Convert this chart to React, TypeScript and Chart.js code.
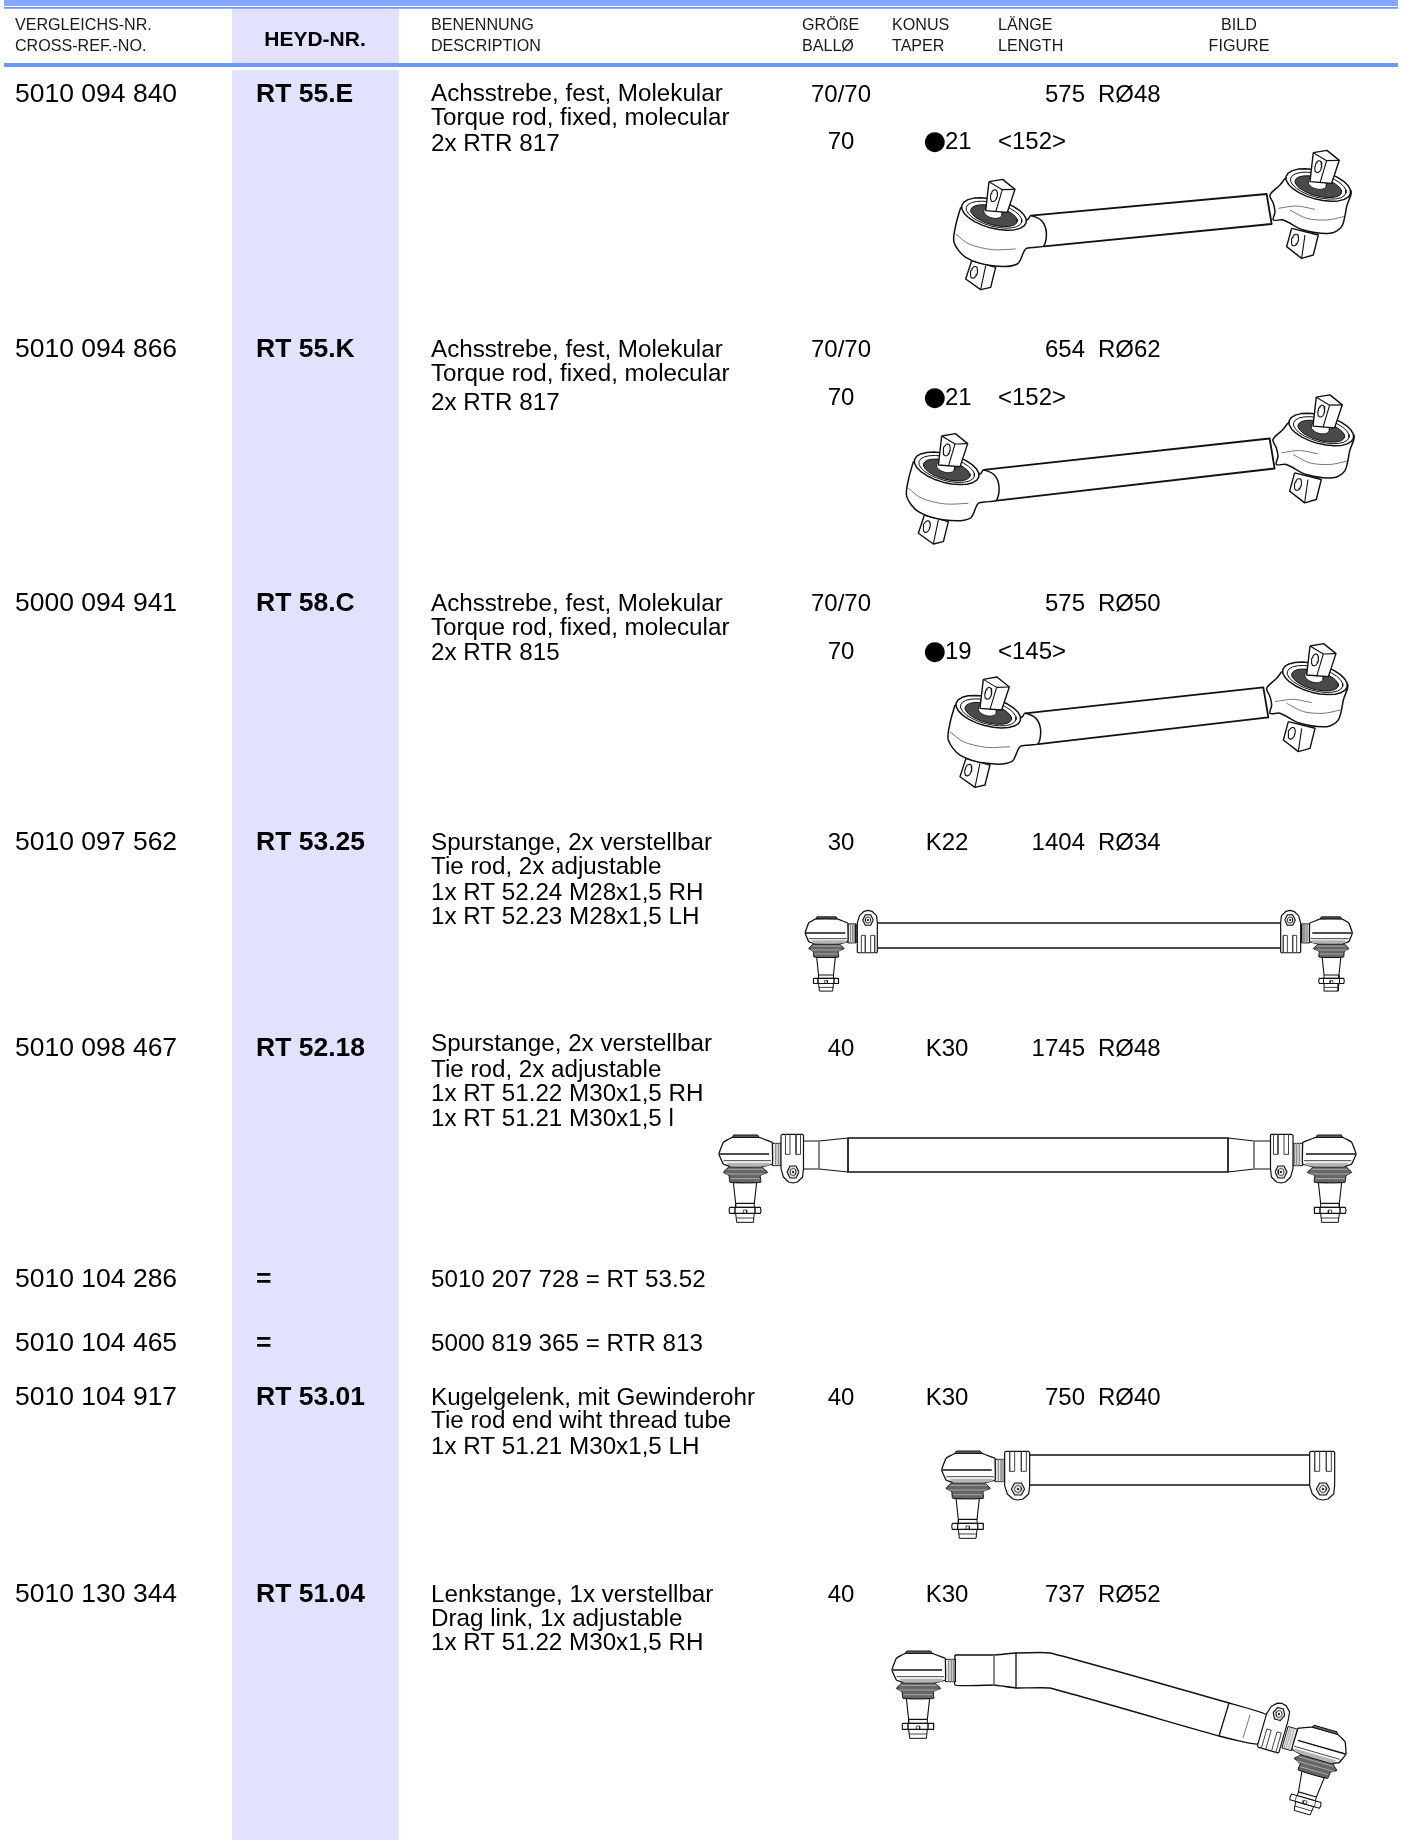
import React, { useEffect, useRef } from "react";
import { Chart, registerables } from "chart.js";

Chart.register(...registerables);

// ---------- table content ----------
const headerCross = ["VERGLEICHS-NR.", "CROSS-REF.-NO."];
const headerHeyd = "HEYD-NR.";
const headerDesc = ["BENENNUNG", "DESCRIPTION"];
const headerSize = ["GRÖßE", "BALLØ"];
const headerTaper = ["KONUS", "TAPER"];
const headerLength = ["LÄNGE", "LENGTH"];
const headerFigure = ["BILD", "FIGURE"];

const crossRefs = ["5010 094 840", "5010 094 866", "5000 094 941", "5010 097 562", "5010 098 467", "5010 104 286", "5010 104 465", "5010 104 917", "5010 130 344"];
const heydNumbers = ["RT 55.E", "RT 55.K", "RT 58.C", "RT 53.25", "RT 52.18", "=", "=", "RT 53.01", "RT 51.04"];
const descriptions = [
  ["Achsstrebe, fest, Molekular", "Torque rod, fixed, molecular", "2x RTR 817"],
  ["Achsstrebe, fest, Molekular", "Torque rod, fixed, molecular", "2x RTR 817"],
  ["Achsstrebe, fest, Molekular", "Torque rod, fixed, molecular", "2x RTR 815"],
  ["Spurstange, 2x verstellbar", "Tie rod, 2x adjustable", "1x RT 52.24 M28x1,5 RH", "1x RT 52.23 M28x1,5 LH"],
  ["Spurstange, 2x verstellbar", "Tie rod, 2x adjustable", "1x RT 51.22 M30x1,5 RH", "1x RT 51.21 M30x1,5 l"],
  ["5010 207 728 = RT 53.52"],
  ["5000 819 365 = RTR 813"],
  ["Kugelgelenk, mit Gewinderohr", "Tie rod end wiht thread tube", "1x RT 51.21 M30x1,5 LH"],
  ["Lenkstange, 1x verstellbar", "Drag link, 1x adjustable", "1x RT 51.22 M30x1,5 RH"],
];
const ballSizes = ["70/70", "70/70", "70/70", "30", "40", "", "", "40", "40"];
const tapers = ["", "", "", "K22", "K30", "", "", "K30", "K30"];
const lengths = ["575", "654", "575", "1404", "1745", "", "", "750", "737"];
const radii = ["RØ48", "RØ62", "RØ50", "RØ34", "RØ48", "", "", "RØ40", "RØ52"];
const secondBall = ["70", "70", "70"];
const secondMarker = "●";
const secondTaper = ["21", "21", "19"];
const secondLength = ["<152>", "<152>", "<145>"];

// ---------- page layout (reference pixels) ----------
const PAGE_W = 1402;
const PAGE_H = 1840;
const rowY = [94.5, 350, 603.5, 843, 1049, 1280, 1344, 1398, 1595];
const sizeRowY = [95, 350.5, 604.5, 843.5, 1049.5, 1280, 1344, 1398.5, 1595.5];
const secondY = [142, 398, 652];
const descY = [
  [94.5, 118.5, 144.5],
  [350.5, 374.5, 403.5],
  [604, 628, 653.5],
  [843.5, 867.5, 893.5, 917.5],
  [1044.5, 1070.5, 1094.5, 1119.5],
  [1280.5],
  [1344],
  [1398, 1421.5, 1447.5],
  [1595.5, 1619.5, 1643.5],
];
const X = { cross: 15, heyd: 256, desc: 431, ball: 841, taper: 947, len: 1085, radius: 1098, dot: 923.5, digits: 945, angle: 998 };
const HX = { cross: 15, heyd: 315, desc: 431, size: 802, taper: 892, len: 998, fig: 1239 };
const HY = [26, 46.5];
const MAIN = 26.5;
const BODY = 24.2;
const SIZES = 24;
const SMALL = 16.1;
const FONT = '"Liberation Sans", Arial, sans-serif';

const BAND = "#86a6ff";
const RULE = "#6c96fb";
const LAV = "#e2e2ff";
const rects: [number, number, number, number, string][] = [
  [232, 8.7, 399, 63, LAV],
  [232, 70, 399, 1840, LAV],
  [4, 0, 1398, 6, BAND],
  [4, 7, 1398, 8.7, RULE],
  [4, 63, 1398, 67, RULE],
];

// ---------- drawing parts, local units ----------
type Pt = [number, number];
type Xf = { tx: number; ty: number; sx: number; sy: number; rot?: number };
const ell = (cx: number, cy: number, rx: number, ry: number, deg = 0): Pt[] => {
  const r = (deg * Math.PI) / 180;
  const out: Pt[] = [];
  for (let i = 0; i <= 24; i++) {
    const t = (i / 24) * 2 * Math.PI;
    const a = rx * Math.cos(t), b = ry * Math.sin(t);
    out.push([cx + a * Math.cos(r) - b * Math.sin(r), cy + a * Math.sin(r) + b * Math.cos(r)]);
  }
  return out;
};

const jointBody: Pt[] = [[82, -35], [42, -50], [-38, -50], [-65, -35], [-78, 0], [-65, 30], [-43, 38], [47, 38], [82, 30], [82, -35]];
const jointCap: Pt[] = [[-38, -50], [-34, -57], [38, -57], [42, -50], [-38, -50]];
const jointAxis: Pt[] = [[-76, 0], [72, 0]];
const jointLine: Pt[] = [[-64, 20], [78, 20]];
const jointShade: Pt[] = [[-56, 26], [74, 26], [74, 34], [47, 38], [-43, 38], [-56, 26]];
const jointNeck: Pt[] = [[82, -32], [112, -32], [112, 35], [82, 35], [82, -32]];
const neckLines: Pt[][] = [[[92, -32], [92, 35]], [[100, -32], [100, 35]], [[106, -32], [106, 35]]];
const jointBoot: Pt[] = [[-48, 38], [50, 38], [58, 46], [68, 55], [46, 65], [47, 85], [-45, 85], [-48, 65], [-65, 55], [-56, 46], [-48, 38]];
const bootLines: Pt[][] = [[[-52, 46], [56, 46]], [[-60, 60], [60, 60]], [[-44, 74], [44, 74]]];
const jointStud: Pt[] = [[-35, 85], [-28, 148], [28, 148], [35, 85], [-35, 85]];
const jointRing: Pt[] = [[-28, 148], [-28, 160], [28, 160], [28, 148]];
const jointNut: Pt[] = [[-46, 160], [46, 160], [48, 170], [46, 178], [-46, 178], [-48, 170], [-46, 160]];
const nutLines: Pt[][] = [[[-30, 160], [-30, 178]], [[30, 160], [30, 178]], [[-5, 168], [5, 168], [5, 178], [-5, 178], [-5, 168]]];
const jointTip: Pt[] = [[-28, 178], [-25, 205], [25, 205], [28, 178], [-28, 178]];
const tipLine: Pt[] = [[-27, 192], [27, 192]];

const clampBody: Pt[] = [[-40, -110], [-35, -113], [32, -113], [35, -110], [35, -10], [32, 15], [15, 30], [0, 33], [-15, 30], [-32, 15], [-40, -10], [-40, -110]];
const clampSlots: Pt[][] = [[[-25, -113], [-25, -53], [-10, -53], [-10, -113]], [[10, -113], [10, -53], [25, -53], [25, -113]]];
const boltHex: Pt[] = [[20, 0], [10, 18], [-10, 18], [-20, 0], [-10, -18], [10, -18], [20, 0]];
const boltRing = ell(0, 0, 10, 10);
const boltDot = ell(0, 0, 3, 3);

const eyeRim = ell(0, 0, 100, 43, 15);
const eyeInner = ell(0, 2, 86, 35, 15);
const eyeDark = ell(0, 5, 72, 28, 15);
const eyeCone = ell(-3, -4, 28, 16, 15);
const leftLower: Pt[] = [[-67, 140], [-85, 195], [-40, 227], [-10, 220], [5, 160], [-67, 140]];
const leftLowerSlot = ell(-60, 175, 10, 18, 15);
const leftLowerEdge: Pt[] = [[-25, 155], [-40, 227]];
const leftBody: Pt[] = [[-100, -20], [-115, 35], [-120, 85], [-85, 130], [-5, 155], [70, 150], [95, 105], [125, 100], [150, 95], [157, 55], [143, 20], [110, 5], [100, 17], [-100, -20]];
const leftArc: Pt[] = [[-115, 60], [-75, 90], [-5, 107], [65, 105]];
const upperBlock: Pt[] = [[-15, -97], [26, -104], [63, -74], [40, -5], [-25, -10], [-15, -97]];
const upperEdge: Pt[] = [[-15, -97], [25, -73], [63, -74]];
const upperEdge2: Pt[] = [[25, -73], [5, -6]];
const upperSlot = ell(0, -55, 10, 18, 12);
const rightLower: Pt[] = [[-80, 130], [-95, 185], [-50, 220], [-15, 210], [0, 150], [-80, 130]];
const rightLowerSlot = ell(-70, 165, 10, 18, 15);
const rightLowerEdge: Pt[] = [[-40, 150], [-50, 220]];
const rightBody: Pt[] = [[-100, -20], [-115, 0], [-145, 30], [-135, 55], [-130, 80], [-135, 105], [-105, 105], [-45, 135], [35, 145], [70, 125], [85, 65], [95, 15], [-100, -20]];
const rightArcA: Pt[] = [[-120, 70], [-65, 63], [-10, 73]];
const rightArcB: Pt[] = [[-85, 75], [-35, 100], [25, 105], [77, 95]];

// torque-rod figures: eye centres
const rods = [
  { l: [994, 214], r: [1318.3, 185], tube: [110, 5, 150, 97, -155, 27, -140, 117] },
  { l: [946.7, 468.3], r: [1321.3, 429.5], tube: [110, 5, 150, 97, -155, 27, -140, 117] },
  { l: [988.3, 711.7], r: [1315, 678.3], tube: [110, 5, 150, 97, -155, 27, -140, 117] },
];
// straight rods: [x0, x1, yTop, yBottom]
const rod4 = [878, 1280, 923, 948];
const rod5 = [848, 1228, 1138, 1172];
const rod5Taper = [819, 804, 1141, 1169, 1254, 1270];
const rod6 = [1030, 1312, 1455, 1485];
const link7Top: Pt[] = [[955, 1655], [994, 1655], [1016, 1653], [1050, 1653], [1229, 1703], [1267, 1715]];
const link7Bot: Pt[] = [[955, 1685], [994, 1685], [1016, 1688], [1050, 1688], [1219, 1736], [1258, 1744]];
const link7Cuts: Pt[][] = [[[1016, 1653], [1016, 1688]], [[1229, 1703], [1219, 1736]]];
const link7Grey: Pt[][] = [[[994, 1655], [994, 1685]], [[1250, 1715], [1243, 1738]]];

type Shape = { pts: { x: number; y: number }[]; fill?: string; stroke?: string; width: number; tension: number };

function buildShapes(): Shape[] {
  const out: Shape[] = [];
  const add = (p: Pt[], xf: Xf | null, o: { fill?: string; stroke?: string; width?: number; tension?: number } = {}) => {
    const rot = xf?.rot ? (xf.rot * Math.PI) / 180 : 0;
    const pts = p.map(([u, v]) => {
      if (!xf) return { x: u, y: v };
      const a = (u * xf.sx) / 3, b = (v * xf.sy) / 3;
      return { x: xf.tx + a * Math.cos(rot) - b * Math.sin(rot), y: xf.ty + a * Math.sin(rot) + b * Math.cos(rot) };
    });
    out.push({ pts, fill: o.fill, stroke: o.stroke === undefined ? "#111" : o.stroke, width: o.width ?? 1.3, tension: o.tension ?? 0 });
  };
  rects.forEach(([a, b, c, d, col]) => add([[a, b], [c, b], [c, d], [a, d], [a, b]], null, { fill: col, stroke: "transparent", width: 0 }));

  const joint = (xf: Xf) => {
    add(jointTip, xf, { fill: "#fff", width: 1 });
    add(tipLine, xf, { width: 0.8 });
    add(jointRing, xf, { fill: "#fff", width: 1 });
    add(jointStud, xf, { fill: "#fff", width: 1.1 });
    add(jointNut, xf, { fill: "#fff", width: 1.1 });
    nutLines.forEach((l) => add(l, xf, { width: 0.7 }));
    add(jointBoot, xf, { fill: "#666", width: 1, tension: 0.15 });
    bootLines.forEach((l) => add(l, xf, { stroke: "#aaa", width: 1 }));
    add(jointNeck, xf, { fill: "#e8e8e8", width: 1 });
    neckLines.forEach((l) => add(l, xf, { stroke: "#888", width: 0.7 }));
    add(jointBody, xf, { fill: "#fff", width: 1.3, tension: 0.08 });
    add(jointShade, xf, { fill: "#b5b5b5", stroke: "transparent", width: 0 });
    add(jointCap, xf, { fill: "#666", width: 1 });
    add(jointAxis, xf, { width: 1.4 });
    add(jointLine, xf, { stroke: "#444", width: 1 });
  };
  const clamp = (xf: Xf) => {
    add(clampBody, xf, { fill: "#fff", width: 1.2 });
    clampSlots.forEach((l) => add(l, xf, { stroke: "#444", width: 1 }));
    add(boltHex, xf, { fill: "#ddd", width: 1.1 });
    add(boltRing, xf, { fill: "#fff", width: 0.8 });
    add(boltDot, xf, { fill: "#333", width: 0.5 });
  };

  // torque rods
  rods.forEach(({ l, r, tube }) => {
    const L: Xf = { tx: l[0], ty: l[1], sx: 1, sy: 1 };
    const R: Xf = { tx: r[0], ty: r[1], sx: 1, sy: 1 };
    const at = (xf: Xf, u: number, v: number): Pt => [xf.tx + u / 3, xf.ty + v / 3];
    add([at(L, tube[0], tube[1]), at(R, tube[4], tube[5]), at(R, tube[6], tube[7]), at(L, tube[2], tube[3]), at(L, tube[0], tube[1])], null, { fill: "#fff", width: 1.8 });
    // left eye
    add(leftLower, L, { fill: "#fff", width: 1.4 });
    add(leftLowerSlot, L, { width: 1.1 });
    add(leftLowerEdge, L, { width: 1.1 });
    add(leftBody, L, { fill: "#fff", width: 1.5, tension: 0.3 });
    add(leftArc, L, { stroke: "#777", width: 1, tension: 0.3 });
    add(eyeRim, L, { fill: "#fff", width: 1.5 });
    add(eyeInner, L, { fill: "#fff", width: 1 });
    add(eyeDark, L, { fill: "#4a4a4a", width: 1 });
    add(eyeCone, L, { fill: "#fff", width: 0.8 });
    add(upperBlock, L, { fill: "#fff", width: 1.4 });
    add(upperEdge, L, { width: 1.1 });
    add(upperEdge2, L, { width: 1.1 });
    add(upperSlot, L, { width: 1.1 });
    // right eye
    add(rightLower, R, { fill: "#fff", width: 1.4 });
    add(rightLowerSlot, R, { width: 1.1 });
    add(rightLowerEdge, R, { width: 1.1 });
    add(rightBody, R, { fill: "#fff", width: 1.5, tension: 0.3 });
    add(rightArcA, R, { stroke: "#777", width: 1, tension: 0.3 });
    add(rightArcB, R, { stroke: "#777", width: 1, tension: 0.3 });
    add(eyeRim, R, { fill: "#fff", width: 1.5 });
    add(eyeInner, R, { fill: "#fff", width: 1 });
    add(eyeDark, R, { fill: "#4a4a4a", width: 1 });
    add(eyeCone, R, { fill: "#fff", width: 0.8 });
    add(upperBlock, R, { fill: "#fff", width: 1.4 });
    add(upperEdge, R, { width: 1.1 });
    add(upperEdge2, R, { width: 1.1 });
    add(upperSlot, R, { width: 1.1 });
  });

  // figure 4
  add([[rod4[0], rod4[2]], [rod4[1], rod4[2]]], null, { width: 1.7 });
  add([[rod4[0], rod4[3]], [rod4[1], rod4[3]]], null, { width: 1.7 });
  joint({ tx: 826, ty: 933, sx: 0.8, sy: 0.85 });
  joint({ tx: 1331.5, ty: 933, sx: -0.8, sy: 0.85 });
  clamp({ tx: 868, ty: 920, sx: 0.8, sy: -0.87 });
  clamp({ tx: 1290, ty: 920, sx: -0.8, sy: -0.87 });

  // figure 5
  add([[rod5[0], rod5[2]], [rod5[1], rod5[2]], [rod5[1], rod5[3]], [rod5[0], rod5[3]], [rod5[0], rod5[2]]], null, { fill: "#fff", width: 1.7 });
  add([[rod5[0], rod5[2]], [rod5Taper[0], rod5Taper[2]], [rod5Taper[1], rod5Taper[2]]], null, { width: 1.1 });
  add([[rod5[0], rod5[3]], [rod5Taper[0], rod5Taper[3]], [rod5Taper[1], rod5Taper[3]]], null, { width: 1.1 });
  add([[rod5[1], rod5[2]], [rod5Taper[4], rod5Taper[2]], [rod5Taper[5], rod5Taper[2]]], null, { width: 1.1 });
  add([[rod5[1], rod5[3]], [rod5Taper[4], rod5Taper[3]], [rod5Taper[5], rod5Taper[3]]], null, { width: 1.1 });
  add([[rod5Taper[0], rod5Taper[2]], [rod5Taper[0], rod5Taper[3]]], null, { stroke: "#777", width: 1 });
  add([[rod5Taper[4], rod5Taper[2]], [rod5Taper[4], rod5Taper[3]]], null, { stroke: "#777", width: 1 });
  joint({ tx: 745, ty: 1154, sx: 1, sy: 1 });
  joint({ tx: 1330, ty: 1154, sx: -1, sy: 1 });
  clamp({ tx: 793, ty: 1172, sx: 0.9, sy: 1 });
  clamp({ tx: 1281, ty: 1172, sx: -0.9, sy: 1 });

  // figure 6
  add([[rod6[0], rod6[2]], [rod6[1], rod6[2]]], null, { width: 1.7 });
  add([[rod6[0], rod6[3]], [rod6[1], rod6[3]]], null, { width: 1.7 });
  joint({ tx: 967.7, ty: 1470, sx: 1, sy: 1 });
  clamp({ tx: 1018, ty: 1489, sx: 1, sy: 1 });
  clamp({ tx: 1323, ty: 1489, sx: 1, sy: 1 });

  // figure 7
  add([...link7Top, ...[...link7Bot].reverse(), link7Top[0]], null, { fill: "#fff", width: 1.4, tension: 0.1 });
  link7Cuts.forEach((l) => add(l, null, { width: 1.3 }));
  link7Grey.forEach((l) => add(l, null, { stroke: "#777", width: 1 }));
  joint({ tx: 918, ty: 1670, sx: 1, sy: 1 });
  joint({ tx: 1321, ty: 1747, sx: -1, sy: 1, rot: 16 });
  clamp({ tx: 1279, ty: 1714, sx: 0.9, sy: -1, rot: 16 });
  return out;
}

const textPlugin = {
  id: "tableText",
  afterDatasetsDraw(chart: any) {
    const { ctx, scales } = chart;
    const put = (s: string, x: number, y: number, size: number, align: CanvasTextAlign = "left", bold = false, col = "#000", family = FONT) => {
      if (!s) return;
      ctx.font = `${bold ? "bold " : ""}${size}px ${family}`;
      ctx.fillStyle = col;
      ctx.textAlign = align;
      ctx.textBaseline = "middle";
      ctx.fillText(s, scales.x.getPixelForValue(x), scales.y.getPixelForValue(y));
    };
    ctx.save();
    const H = "#1a1a1a";
    HY.forEach((y, i) => {
      put(headerCross[i], HX.cross, y, SMALL, "left", false, H);
      put(headerDesc[i], HX.desc, y, SMALL, "left", false, H);
      put(headerSize[i], HX.size, y, SMALL, "left", false, H);
      put(headerTaper[i], HX.taper, y, SMALL, "left", false, H);
      put(headerLength[i], HX.len, y, SMALL, "left", false, H);
      put(headerFigure[i], HX.fig, y, SMALL, "center", false, H);
    });
    put(headerHeyd, HX.heyd, 40, 21, "center", true);
    crossRefs.forEach((s, i) => {
      put(s, X.cross, rowY[i], MAIN);
      put(heydNumbers[i], X.heyd, rowY[i], MAIN, "left", true);
      descriptions[i].forEach((d, j) => put(d, X.desc, descY[i][j], BODY));
      put(ballSizes[i], X.ball, sizeRowY[i], SIZES, "center");
      put(tapers[i], X.taper, sizeRowY[i], SIZES, "center");
      put(lengths[i], X.len, sizeRowY[i], SIZES, "right");
      put(radii[i], X.radius, sizeRowY[i], SIZES);
    });
    secondY.forEach((y, i) => {
      put(secondBall[i], X.ball, y, SIZES, "center");
      put(secondMarker, X.dot, y, 26, "left", false, "#000", '"DejaVu Sans"');
      put(secondTaper[i], X.digits, y, SIZES);
      put(secondLength[i], X.angle, y, SIZES);
    });
    ctx.restore();
  },
};

export default function App() {
  const ref = useRef<HTMLCanvasElement>(null);
  useEffect(() => {
    const shapes = buildShapes();
    const datasets = shapes
      .map((s) => ({
        type: "scatter" as const,
        data: s.pts,
        showLine: true,
        pointRadius: 0,
        borderColor: s.stroke,
        borderWidth: s.width,
        backgroundColor: s.fill ?? "transparent",
        fill: s.fill ? "shape" : false,
        tension: s.tension,
        borderJoinStyle: "round" as const,
        clip: false,
      }))
      .reverse();
    const chart = new Chart(ref.current!, {
      type: "scatter",
      data: { datasets },
      options: {
        animation: false,
        responsive: false,
        layout: { padding: 0 },
        plugins: { legend: { display: false }, tooltip: { enabled: false } },
        scales: {
          x: { type: "linear", min: 0, max: PAGE_W, display: false },
          y: { type: "linear", min: 0, max: PAGE_H, reverse: true, display: false },
        },
      },
      plugins: [textPlugin],
    });
    return () => chart.destroy();
  }, []);
  return (
    <div style={{ position: "absolute", left: 0, top: 0, width: PAGE_W, height: PAGE_H, background: "#fff" }}>
      <canvas ref={ref} width={PAGE_W} height={PAGE_H} style={{ display: "block" }} />
    </div>
  );
}
